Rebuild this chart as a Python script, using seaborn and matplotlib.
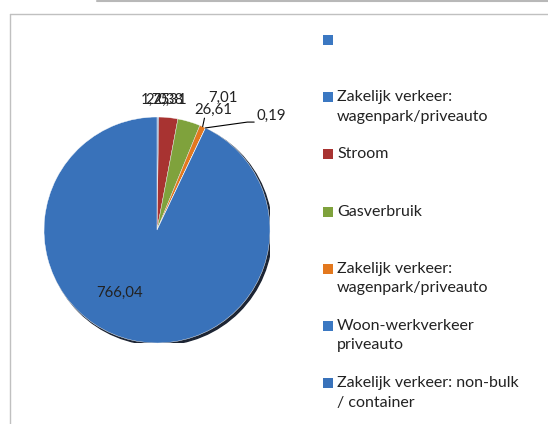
import matplotlib
matplotlib.use("Agg")
import matplotlib.pyplot as plt
import seaborn as sns
import numpy as np
from matplotlib.lines import Line2D
from matplotlib.patches import Circle, Rectangle

# data (clockwise from 12 o'clock)
categories = [
    "",
    "Zakelijk verkeer:\nwagenpark/priveauto",
    "Stroom",
    "Gasverbruik",
    "Zakelijk verkeer:\nwagenpark/priveauto",
    "Woon-werkverkeer\npriveauto",
    "Zakelijk verkeer: non-bulk\n/ container",
]
values = [0.31, 1.75, 22.38, 26.61, 7.01, 0.19, 766.04]
value_labels = ["0,31", "1,75", "22,38", "26,61", "7,01", "0,19", "766,04"]
colors = ["#3B78C2", "#3B78C2", "#A83331", "#7FA23C", "#E3781E", "#3B78C2", "#3972BA"]

sns.set_style("white")
plt.rcParams['font.family'] = ['Lato', 'DejaVu Sans']

W, H = 548, 424
fig = plt.figure(figsize=(W / 100, H / 100), dpi=100)

# pie axes: centre (157, 230) px, radius 113 px
cx, cy, r = 157, 230, 113
ax = fig.add_axes([(cx - r) / W, (H - cy - r) / H, 2 * r / W, 2 * r / H])

# shadow
ax.add_patch(Circle((0.018, -0.018), 1.0, color="#1c2433", zorder=0))
wedges, _ = ax.pie(values, colors=colors, startangle=90, counterclock=False,
                   radius=1.0, wedgeprops=dict(linewidth=0.3, edgecolor="white"))
for w in wedges:
    w.set_zorder(1)
ax.set_xlim(-1, 1)
ax.set_ylim(-1, 1)
ax.set_aspect("equal")
ax.axis("off")

fs = 10.8
# label positions (data units, pie radius = 1)
label_pos = {
    0: (0.14, 1.15),
    1: (-0.01, 1.15),
    2: (0.07, 1.15),
    3: (0.50, 1.06),
    4: (0.58, 1.17),
    5: (1.01, 1.01),
    6: (-0.33, -0.56),
}
total = sum(values)
start = 90.0
for i, (v, lab) in enumerate(zip(values, value_labels)):
    ang = start - v / total * 180
    start -= v / total * 360
    x, y = label_pos[i]
    ax.text(x, y, lab, ha="center", va="center", fontsize=fs, color="#222222",
            clip_on=False, zorder=5)
    if i in (4, 5):
        ex, ey = np.cos(np.radians(ang)), np.sin(np.radians(ang))
        if i == 4:
            ax.add_line(Line2D([ex, 0.42], [ey, 0.99], color="black", lw=0.8,
                               clip_on=False))
        else:
            ax.add_line(Line2D([ex, 0.80, 0.86], [ey, 0.955, 0.955], color="black",
                               lw=0.8, clip_on=False))

# legend, drawn as evenly spaced entries
sq = 10
lfs = 11.5
for i, (cat, col) in enumerate(zip(categories, colors)):
    ytop = 35 + i * 57.2
    fig.add_artist(Rectangle((323 / W, 1 - (ytop + sq) / H), sq / W, sq / H,
                             transform=fig.transFigure, facecolor=col,
                             edgecolor="none"))
    fig.text(337 / W, 1 - (ytop - 2) / H, cat, ha="left", va="top",
             fontsize=lfs, color="#222222", linespacing=1.5)

# chart border
border = "#c0c0c0"
fig.add_artist(Line2D([10 / W, 10 / W], [1 - 13.5 / H, 0], color=border, lw=1,
                      transform=fig.transFigure))
fig.add_artist(Line2D([10 / W, 1], [1 - 13.5 / H, 1 - 13.5 / H], color=border, lw=1,
                      transform=fig.transFigure))
fig.add_artist(Line2D([97 / W, 1], [1 - 1 / H, 1 - 1 / H], color="#b8b8b8", lw=1.5,
                      transform=fig.transFigure))

fig.savefig("out.png", dpi=100, facecolor="white")
